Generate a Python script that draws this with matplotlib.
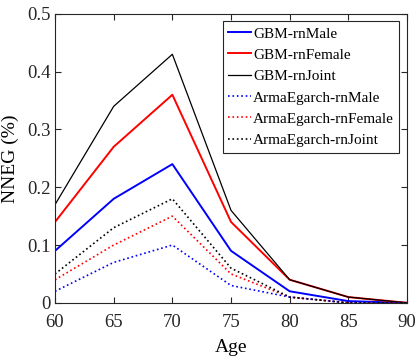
import matplotlib.pyplot as plt
import numpy as np

plt.rcParams['font.family'] = ['Liberation Serif', 'DejaVu Serif']

# ages on the x axis
ages = [60, 65, 70, 75, 80, 85, 90]

# NNEG values (%)
gbm_male = [0.09, 0.18, 0.24, 0.09, 0.02, 0.003, 0.0]
gbm_female = [0.14, 0.27, 0.36, 0.14, 0.04, 0.01, 0.0]
gbm_joint = [0.17, 0.34, 0.43, 0.16, 0.04, 0.01, 0.0]
ae_male = [0.02, 0.07, 0.10, 0.03, 0.01, 0.0, 0.0]
ae_female = [0.04, 0.10, 0.15, 0.05, 0.01, 0.0, 0.0]
ae_joint = [0.05, 0.13, 0.18, 0.06, 0.01, 0.0, 0.0]

fig = plt.figure(figsize=(4.17, 3.64), dpi=100)
ax = fig.add_axes([0.132, 0.168, 0.844, 0.794])

ax.plot(ages, gbm_male, color='blue', lw=1.4, label='GBM-rnMale')
ax.plot(ages, gbm_female, color='red', lw=1.4, label='GBM-rnFemale')
ax.plot(ages, gbm_joint, color='black', lw=0.9, label='GBM-rnJoint')
ax.plot(ages, ae_male, color='blue', lw=1.2, ls=':', label='ArmaEgarch-rnMale')
ax.plot(ages, ae_female, color='red', lw=1.2, ls=':', label='ArmaEgarch-rnFemale')
ax.plot(ages, ae_joint, color='black', lw=1.2, ls=':', label='ArmaEgarch-rnJoint')

ax.set_xlim(60, 90)
ax.set_ylim(0, 0.5)
ax.set_xticks(ages)
ax.set_yticks([0, 0.1, 0.2, 0.3, 0.4, 0.5])
ax.set_yticklabels(['0', '0.1', '0.2', '0.3', '0.4', '0.5'])
ax.tick_params(direction='in', top=True, right=True, labelsize=13.5, length=4, colors='#262626')
ax.tick_params(axis='x', pad=8)
ax.tick_params(axis='y', pad=3)
for s in ax.spines.values():
    s.set_color('#262626')
    s.set_linewidth(0.8)

ax.set_xlabel('Age', fontsize=14, labelpad=6)
ax.set_ylabel('NNEG (%)', fontsize=14, labelpad=6)

leg = ax.legend(loc='upper right', fontsize=11, handlelength=1.5, handletextpad=0.15,
                labelspacing=0.5, borderpad=0.35, fancybox=False, framealpha=1,
                edgecolor='#262626', borderaxespad=0.5)
leg.get_frame().set_linewidth(0.8)

fig.savefig('out.png', dpi=100)
